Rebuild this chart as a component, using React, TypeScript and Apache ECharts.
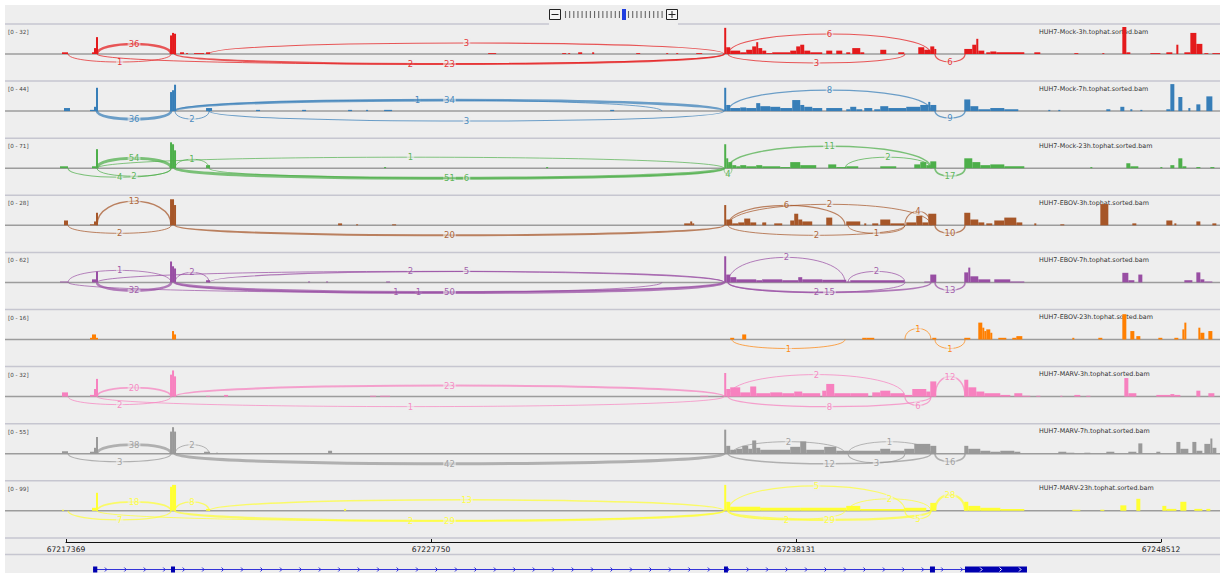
import React, { useEffect, useRef } from "react";
import * as echarts from "echarts";

// ---------- genomic frame ----------
const BASE = 67217369;
const VIEW_START = 67215634;
const VIEW_END = 67250190;
const AXIS_TICKS = [67217369, 67227750, 67238131, 67248512];
const BIN_BP = 56.9; // coverage bin size (bp)

// ---------- tracks ----------
const TRACK_NAMES = [
  "HUH7-Mock-3h.tophat.sorted.bam",
  "HUH7-Mock-7h.tophat.sorted.bam",
  "HUH7-Mock-23h.tophat.sorted.bam",
  "HUH7-EBOV-3h.tophat.sorted.bam",
  "HUH7-EBOV-7h.tophat.sorted.bam",
  "HUH7-EBOV-23h.tophat.sorted.bam",
  "HUH7-MARV-3h.tophat.sorted.bam",
  "HUH7-MARV-7h.tophat.sorted.bam",
  "HUH7-MARV-23h.tophat.sorted.bam",
];
const TRACK_MAX = [32, 44, 71, 28, 62, 16, 32, 55, 99];
const TRACK_COLORS = ["#e41a1c", "#377eb8", "#4daf4a", "#a65628", "#984ea3", "#ff7f00", "#f781bf", "#999999", "#ffff33"];

// ---------- splice sites (bp offset from BASE) ----------
const S68 = 60, S97 = 880, S171 = 2990, S173 = 3040, S175 = 3100, S209 = 4070, S662 = 16950;
const S724 = 18715, S728 = 18830, S732 = 18940, S845 = 22155, S848 = 22240, S905 = 23860;
const S931 = 24600, S935 = 24715, S965 = 25570;

// junctions: [start, end, reads, side(+1 above / -1 below), arc level]
const JUNC_MOCK_3H = [
  [S97, S171, 36, 1, 10], [S68, S171, 1, -1, 8], [S209, S724, 3, 1, 11], [S97, S724, 2, -1, 10],
  [S175, S724, 23, -1, 10], [S728, S931, 6, 1, 20], [S728, S905, 3, -1, 9], [S935, S965, 6, -1, 8],
];
const JUNC_MOCK_7H = [
  [S97, S171, 36, -1, 8], [S175, S209, 2, -1, 8], [S173, S662, 1, 1, 11], [S175, S724, 34, 1, 11],
  [S209, S724, 3, -1, 10], [S728, S931, 8, 1, 21], [S935, S965, 9, -1, 7],
];
const JUNC_MOCK_23H = [
  [S97, S171, 54, 1, 10], [S175, S209, 1, 1, 9], [S97, S724, 1, 1, 11], [S68, S171, 4, -1, 9],
  [S97, S171, 2, -1, 8], [S175, S724, 51, -1, 10], [S209, S724, 6, -1, 10], [S724, S732, 4, -1, 6],
  [S728, S931, 11, 1, 22], [S845, S931, 2, 1, 11], [S935, S965, 17, -1, 8],
];
const JUNC_EBOV_3H = [
  [S97, S171, 13, 1, 24], [S68, S171, 2, -1, 8], [S175, S724, 20, -1, 10], [S728, S845, 6, 1, 20],
  [S728, S931, 2, 1, 21], [S905, S931, 4, 1, 14], [S728, S905, 2, -1, 10], [S848, S905, 1, -1, 8],
  [S935, S965, 10, -1, 8],
];
const JUNC_EBOV_7H = [
  [S68, S171, 1, 1, 12], [S175, S209, 2, 1, 10], [S97, S171, 32, -1, 8], [S68, S724, 1, -1, 10],
  [S175, S662, 1, -1, 10], [S175, S724, 50, -1, 10], [S97, S724, 2, 1, 11], [S209, S724, 5, 1, 11],
  [S728, S845, 2, 1, 25], [S848, S905, 2, 1, 11], [S728, S905, 2, -1, 10], [S728, S931, 15, -1, 10],
  [S935, S965, 13, -1, 8],
];
const JUNC_EBOV_23H = [
  [S732, S845, 1, -1, 9], [S905, S931, 1, 1, 11], [S935, S965, 1, -1, 9],
];
const JUNC_MARV_3H = [
  [S97, S171, 20, 1, 9], [S68, S171, 2, -1, 8], [S175, S724, 23, 1, 11], [S97, S724, 1, -1, 10],
  [S728, S905, 2, 1, 22], [S728, S931, 8, -1, 10], [S905, S931, 6, -1, 9], [S935, S965, 12, 1, 20],
];
const JUNC_MARV_7H = [
  [S97, S171, 38, 1, 9], [S175, S209, 2, 1, 9], [S68, S171, 3, -1, 8], [S175, S724, 42, -1, 10],
  [S732, S845, 2, 1, 12], [S848, S931, 1, 1, 12], [S728, S931, 12, -1, 10], [S848, S905, 3, -1, 9],
  [S935, S965, 16, -1, 8],
];
const JUNC_MARV_23H = [
  [S97, S171, 18, 1, 9], [S175, S209, 8, 1, 9], [S68, S171, 7, -1, 9], [S209, S724, 13, 1, 11],
  [S97, S724, 2, -1, 10], [S175, S724, 29, -1, 10], [S728, S905, 5, 1, 25], [S848, S931, 2, 1, 12],
  [S935, S965, 28, 1, 16], [S728, S845, 2, -1, 9], [S728, S931, 29, -1, 9], [S905, S931, 5, -1, 8],
];
const JUNCTIONS = [JUNC_MOCK_3H, JUNC_MOCK_7H, JUNC_MOCK_23H, JUNC_EBOV_3H, JUNC_EBOV_7H, JUNC_EBOV_23H, JUNC_MARV_3H, JUNC_MARV_7H, JUNC_MARV_23H];

// coverage runs: [firstBin, endBin, depth], bin = BIN_BP from BASE
const COV_MOCK_3H = [
  [-2, 1, 2], [13, 14, 2], [14, 15, 7], [15, 16, 20], [52, 53, 22], [53, 54, 25], [54, 55, 24], [57, 59, 2], [60, 61, 1], [64, 69, 1], [70, 72, 2],
  [211, 215, 1], [248, 250, 1], [251, 252, 1], [256, 258, 2], [263, 264, 2], [285, 287, 1], [300, 301, 1], [305, 306, 1], [315, 318, 1],
  [329, 330, 31], [330, 332, 8], [332, 337, 4], [337, 340, 2], [340, 343, 5], [343, 345, 9], [345, 346, 14], [346, 348, 7], [348, 350, 4], [350, 353, 1],
  [353, 362, 2], [362, 365, 4], [365, 367, 9], [367, 369, 11], [369, 372, 4], [372, 378, 2], [380, 383, 4], [385, 388, 4], [390, 392, 2], [393, 397, 7],
  [397, 399, 2], [407, 410, 5], [416, 419, 2], [426, 429, 8], [429, 432, 5], [432, 434, 9], [434, 435, 6],
  [449, 453, 6], [453, 455, 11], [455, 456, 18], [456, 459, 4], [460, 462, 2], [462, 465, 3], [465, 479, 2], [484, 487, 2], [504, 506, 1], [518, 519, 1],
  [528, 530, 32], [530, 532, 2], [542, 547, 1], [550, 553, 2], [555, 556, 11], [559, 562, 2], [562, 565, 25], [565, 568, 12], [569, 571, 1], [573, 577, 1],
];
const COV_MOCK_7H = [
  [-1, 2, 5], [12, 14, 2], [14, 15, 7], [15, 16, 38], [52, 53, 31], [53, 54, 34], [54, 55, 43], [70, 73, 5],
  [95, 97, 2], [118, 120, 2], [141, 143, 2], [150, 151, 2], [159, 163, 2], [272, 274, 2],
  [329, 330, 38], [330, 332, 10], [332, 337, 5], [337, 340, 6], [340, 345, 5], [345, 347, 13], [347, 352, 8], [352, 357, 7], [357, 363, 5], [363, 367, 18],
  [367, 369, 10], [369, 373, 7], [373, 378, 5], [380, 388, 5], [390, 392, 3], [392, 395, 7], [395, 398, 3], [399, 403, 5], [404, 407, 3], [407, 411, 8],
  [411, 420, 5], [420, 427, 7], [427, 431, 10], [431, 432, 15], [432, 435, 10],
  [449, 452, 19], [452, 456, 8], [456, 462, 3], [462, 469, 5], [469, 476, 3], [491, 492, 2], [496, 497, 2], [520, 522, 3], [527, 529, 7], [532, 533, 3],
  [537, 538, 2], [550, 552, 3], [552, 554, 44], [556, 558, 23], [561, 562, 5], [565, 567, 11], [570, 573, 24],
];
const COV_MOCK_23H = [
  [-3, 1, 5], [13, 15, 5], [15, 16, 50], [52, 53, 68], [53, 54, 63], [54, 55, 47], [70, 72, 8], [159, 160, 3], [240, 241, 3],
  [329, 330, 63], [330, 331, 26], [331, 333, 16], [333, 335, 8], [335, 337, 5], [337, 340, 8], [340, 345, 5], [345, 348, 8], [348, 357, 5], [357, 362, 3],
  [362, 367, 16], [367, 375, 8], [381, 385, 10], [385, 390, 3], [390, 396, 5], [407, 415, 5], [424, 427, 10], [427, 430, 16], [430, 432, 8], [432, 435, 18],
  [449, 453, 26], [453, 457, 16], [457, 462, 8], [462, 469, 10], [469, 479, 5], [512, 513, 3], [530, 532, 13], [532, 536, 5], [547, 548, 3], [552, 554, 8],
  [556, 558, 26], [558, 560, 5], [565, 567, 3], [572, 574, 3],
];
const COV_EBOV_3H = [
  [-1, 1, 5], [12, 14, 1], [14, 15, 4], [15, 16, 13], [52, 54, 27], [54, 55, 21], [136, 138, 2], [145, 146, 1], [163, 165, 1], [309, 312, 2], [312, 313, 4], [313, 314, 2],
  [329, 330, 21], [330, 333, 6], [333, 336, 2], [336, 339, 3], [339, 342, 7], [342, 345, 3], [348, 350, 3], [354, 358, 2], [362, 364, 5], [364, 366, 12],
  [366, 368, 6], [368, 373, 4], [380, 383, 8], [390, 397, 4], [399, 400, 2], [403, 406, 2], [407, 412, 6], [412, 419, 2], [420, 425, 3], [425, 428, 10],
  [428, 431, 3], [431, 435, 12],
  [449, 452, 13], [452, 456, 6], [456, 459, 3], [460, 463, 2], [464, 469, 5], [469, 475, 8], [475, 478, 3], [484, 485, 2], [497, 499, 1], [517, 521, 22],
  [533, 535, 2], [550, 553, 5], [554, 555, 2], [565, 567, 4], [573, 575, 2],
];
const COV_EBOV_7H = [
  [-3, 1, 2], [13, 15, 7], [15, 16, 25], [52, 53, 48], [53, 54, 37], [54, 55, 32], [70, 72, 5], [121, 122, 2], [130, 131, 2], [160, 162, 2],
  [329, 330, 60], [330, 332, 18], [332, 335, 12], [335, 345, 7], [345, 348, 5], [348, 358, 7], [358, 366, 5], [366, 368, 12], [368, 378, 7], [378, 390, 6],
  [390, 392, 2], [392, 419, 5], [429, 432, 2], [432, 435, 18],
  [449, 451, 23], [451, 452, 34], [452, 456, 14], [456, 462, 7], [464, 472, 7], [472, 479, 2], [528, 531, 22], [531, 534, 5], [536, 538, 18], [559, 563, 5],
  [565, 567, 23], [567, 569, 7], [569, 573, 2],
];
const COV_EBOV_23H = [
  [12, 13, 1], [13, 15, 3], [15, 16, 1], [53, 54, 5], [54, 55, 3],
  [332, 334, 1], [338, 340, 3], [398, 400, 1], [400, 404, 1], [433, 435, 1],
  [449, 452, 1], [456, 458, 10], [458, 459, 7], [459, 460, 5], [460, 462, 6], [462, 463, 4], [466, 470, 1], [473, 475, 1], [475, 478, 2], [503, 504, 1],
  [516, 518, 1], [528, 530, 15], [532, 534, 5], [535, 537, 2], [546, 548, 1], [554, 556, 1], [558, 559, 6], [559, 560, 10], [566, 567, 7], [567, 569, 4], [571, 573, 5],
];
const COV_MARV_3H = [
  [-2, 1, 5], [12, 14, 2], [14, 15, 9], [15, 16, 21], [52, 53, 26], [53, 54, 31], [54, 55, 24], [70, 72, 1], [79, 81, 2], [152, 155, 1], [157, 162, 1], [317, 321, 1],
  [329, 330, 28], [330, 332, 9], [332, 337, 11], [337, 342, 5], [342, 345, 12], [345, 352, 4], [352, 358, 5], [358, 364, 4], [364, 368, 6], [368, 377, 4],
  [378, 380, 7], [380, 384, 15], [384, 392, 4], [392, 401, 4], [403, 407, 5], [407, 412, 7], [412, 419, 4], [419, 423, 2], [423, 430, 9], [430, 432, 6], [432, 435, 18],
  [449, 451, 20], [451, 455, 11], [455, 459, 6], [459, 467, 4], [467, 472, 2], [474, 478, 4], [478, 482, 1], [485, 487, 1], [497, 498, 1], [504, 507, 2],
  [510, 512, 1], [529, 531, 22], [531, 535, 4], [545, 552, 2], [552, 554, 3], [554, 557, 2], [565, 567, 7], [571, 574, 4],
];
const COV_MARV_7H = [
  [-2, 1, 5], [12, 14, 4], [14, 15, 12], [15, 16, 34], [52, 53, 45], [53, 54, 54], [54, 55, 45], [69, 72, 4], [75, 76, 2], [131, 133, 6],
  [329, 330, 49], [330, 332, 16], [332, 335, 8], [335, 338, 10], [338, 341, 16], [341, 343, 10], [343, 345, 27], [345, 347, 12], [347, 362, 8], [362, 367, 14],
  [367, 370, 25], [370, 379, 8], [379, 385, 14], [385, 391, 6], [391, 407, 6], [407, 412, 10], [412, 419, 6], [419, 424, 10], [424, 432, 20], [432, 435, 16],
  [449, 451, 16], [451, 457, 10], [457, 462, 6], [462, 467, 4], [467, 474, 6], [474, 477, 4], [496, 500, 4], [500, 504, 2], [509, 512, 2], [520, 524, 4],
  [531, 535, 4], [536, 538, 21], [545, 547, 4], [555, 557, 24], [557, 561, 10], [563, 565, 24], [565, 568, 6], [569, 572, 20], [572, 573, 31], [573, 575, 12],
];
const COV_MARV_23H = [
  [-2, -1, 4], [13, 15, 11], [15, 16, 66], [52, 53, 88], [53, 55, 95], [70, 72, 7], [139, 140, 7],
  [329, 330, 95], [330, 332, 33], [332, 347, 15], [347, 367, 11], [367, 390, 11], [390, 397, 18], [397, 419, 7], [419, 430, 11], [432, 435, 29],
  [449, 451, 33], [451, 457, 18], [457, 467, 11], [467, 479, 7], [503, 507, 4], [517, 519, 4], [527, 530, 20], [535, 537, 44], [548, 550, 18], [550, 555, 7],
  [557, 560, 33], [564, 568, 7], [570, 572, 7],
];
const COVERAGE = [COV_MOCK_3H, COV_MOCK_7H, COV_MOCK_23H, COV_EBOV_3H, COV_EBOV_7H, COV_EBOV_23H, COV_MARV_3H, COV_MARV_7H, COV_MARV_23H];

// gene model exons (bp offset from BASE)
const GENE_EXONS = [[770, 890], [2986, 3100], [18714, 18828], [24572, 24714], [25568, 27331]];

// ---------- layout ----------
const TRACK_Y0 = 27;
const TRACK_STEP = 57.1;
const TRACK_H = 27;
const BG = "#eeeeee";
const FONT = "DejaVu Sans";

function hexA(hex: string, a: number) {
  const n = parseInt(hex.slice(1), 16);
  return `rgba(${(n >> 16) & 255},${(n >> 8) & 255},${n & 255},${a})`;
}

function buildOption() {
  const grid: any[] = [];
  const xAxis: any[] = [];
  const yAxis: any[] = [];
  const series: any[] = [];

  for (let i = 0; i < TRACK_NAMES.length; i++) {
    const color = TRACK_COLORS[i];
    grid.push({ left: 5, right: 0, top: TRACK_Y0 + TRACK_STEP * i, height: TRACK_H });
    xAxis.push({ type: "value", gridIndex: i, min: VIEW_START, max: VIEW_END, show: false });
    yAxis.push({ type: "value", gridIndex: i, min: 0, max: TRACK_MAX[i], show: false });
    series.push({
      type: "custom",
      xAxisIndex: i,
      yAxisIndex: i,
      silent: true,
      encode: { x: [0, 1], y: 2 },
      data: COVERAGE[i].map(([b0, b1, v]) => [BASE + b0 * BIN_BP, BASE + b1 * BIN_BP, v]),
      renderItem: (_p: any, api: any) => {
        const s = api.coord([api.value(0), api.value(2)]);
        const e = api.coord([api.value(1), 0]);
        return {
          type: "rect",
          shape: { x: s[0], y: s[1], width: Math.max(e[0] - s[0], 0.8), height: e[1] - s[1] },
          style: { fill: color },
        };
      },
    });
    series.push({
      type: "custom",
      xAxisIndex: i,
      yAxisIndex: i,
      silent: true,
      z: 3,
      encode: { x: [0, 1] },
      data: JUNCTIONS[i].map(([s, e, c, side, lvl]) => [BASE + s, BASE + e, c, side, lvl]),
      renderItem: (_p: any, api: any) => {
        const p0 = api.coord([api.value(0), 0]);
        const p1 = api.coord([api.value(1), 0]);
        const c = api.value(2);
        const side = api.value(3);
        const lvl = api.value(4);
        const H = lvl / 0.75;
        const y0 = p0[1];
        const lw = Math.min(3, 0.9 + c / 20);
        return {
          type: "group",
          children: [
            {
              type: "bezierCurve",
              shape: { x1: p0[0], y1: y0, cpx1: p0[0], cpy1: y0 - side * H, cpx2: p1[0], cpy2: y0 - side * H, x2: p1[0], y2: y0 },
              style: { stroke: hexA(color, 0.72), lineWidth: lw, fill: "none" },
            },
            {
              type: "text",
              x: (p0[0] + p1[0]) / 2,
              y: y0 - side * lvl,
              style: {
                text: String(c),
                fill: hexA(color, 0.9),
                font: `8.5px ${FONT}`,
                align: "center",
                verticalAlign: "middle",
                textAlign: "center",
                textVerticalAlign: "middle",
                backgroundColor: "rgba(238,238,238,0.55)",
                padding: [0, 1],
              },
            },
          ],
        };
      },
    });
  }

  // genomic axis
  const ai = TRACK_NAMES.length;
  grid.push({ left: 66, right: 1220 - 1161, top: 541, height: 1 });
  xAxis.push({
    type: "value",
    gridIndex: ai,
    min: AXIS_TICKS[0],
    max: AXIS_TICKS[AXIS_TICKS.length - 1],
    position: "bottom",
    axisLine: { show: true, lineStyle: { color: "#111", width: 1 } },
    axisTick: { show: true, inside: true, length: 3, customValues: AXIS_TICKS, lineStyle: { color: "#111" } },
    axisLabel: {
      show: true,
      customValues: AXIS_TICKS,
      formatter: (v: number) => String(v),
      fontSize: 7.6,
      fontFamily: FONT,
      color: "#222",
      margin: 3,
    },
    splitLine: { show: false },
  });
  yAxis.push({ type: "value", gridIndex: ai, min: 0, max: 1, show: false });

  // gene model
  const gi = ai + 1;
  grid.push({ left: 5, right: 0, top: 566, height: 10 });
  xAxis.push({ type: "value", gridIndex: gi, min: VIEW_START, max: VIEW_END, show: false });
  yAxis.push({ type: "value", gridIndex: gi, min: 0, max: 1, show: false });
  const exonData = GENE_EXONS.map(([s, e]) => [BASE + s, BASE + e]);
  series.push({
    type: "custom",
    xAxisIndex: gi,
    yAxisIndex: gi,
    silent: true,
    encode: { x: [0, 1] },
    data: [[exonData[0][0], exonData[exonData.length - 1][1]]],
    renderItem: (_p: any, api: any) => {
      const a = api.coord([api.value(0), 0.5]);
      const b = api.coord([api.value(1), 0.5]);
      return {
        type: "line",
        shape: { x1: a[0], y1: a[1], x2: b[0], y2: b[1] },
        style: { stroke: "#3535d8", lineWidth: 1 },
      };
    },
  });
  series.push({
    type: "custom",
    xAxisIndex: gi,
    yAxisIndex: gi,
    silent: true,
    z: 3,
    encode: { x: [0, 1] },
    data: exonData,
    renderItem: (_p: any, api: any) => {
      const a = api.coord([api.value(0), 0.5]);
      const b = api.coord([api.value(1), 0.5]);
      return {
        type: "rect",
        shape: { x: a[0], y: a[1] - 3, width: Math.max(b[0] - a[0], 3), height: 6 },
        style: { fill: "#0000b0" },
      };
    },
  });
  // strand chevrons along the gene body
  series.push({
    type: "custom",
    xAxisIndex: gi,
    yAxisIndex: gi,
    silent: true,
    z: 4,
    encode: { x: [0, 1] },
    data: [[exonData[0][0], exonData[exonData.length - 1][1]]],
    renderItem: (_p: any, api: any) => {
      const a = api.coord([api.value(0), 0.5]);
      const b = api.coord([api.value(1), 0.5]);
      const wide = exonData.filter(([s, e]) => e - s > 1000).map(([s, e]) => [api.coord([s, 0.5])[0], api.coord([e, 0.5])[0]]);
      const kids: any[] = [];
      for (let x = a[0] + 13; x < b[0] - 3; x += 19.45) {
        const inWide = wide.some(([l, r]) => x > l && x < r);
        kids.push({
          type: "polyline",
          shape: { points: [[x - 1.2, a[1] - 2], [x + 0.8, a[1]], [x - 1.2, a[1] + 2]] },
          style: { stroke: inWide ? "#ffffff" : "#2a2ae0", lineWidth: 1, fill: "none" },
        });
      }
      return { type: "group", children: kids };
    },
  });

  // ---------- decorations ----------
  const g: any[] = [];
  g.push({ type: "rect", z: -10, shape: { x: 5, y: 5, width: 1215, height: 568 }, style: { fill: BG } });
  const sepColor = "#c6c6d0";
  for (let i = 0; i <= TRACK_NAMES.length; i++) {
    const y = 24 + TRACK_STEP * i;
    if (i === 0) {
      g.push({ type: "line", shape: { x1: 5, y1: y, x2: 549, y2: y }, style: { stroke: sepColor, lineWidth: 1.5 } });
      g.push({ type: "line", shape: { x1: 678, y1: y, x2: 1220, y2: y }, style: { stroke: sepColor, lineWidth: 1.5 } });
    } else {
      g.push({ type: "line", shape: { x1: 5, y1: y, x2: 1220, y2: y }, style: { stroke: sepColor, lineWidth: 1.5 } });
    }
  }
  g.push({ type: "line", shape: { x1: 5, y1: 554.5, x2: 1220, y2: 554.5 }, style: { stroke: sepColor, lineWidth: 1.5 } });
  for (let i = 0; i < TRACK_NAMES.length; i++) {
    const yb = TRACK_Y0 + TRACK_H + TRACK_STEP * i;
    g.push({ type: "line", shape: { x1: 5, y1: yb, x2: 1220, y2: yb }, style: { stroke: "#9c9c9c", lineWidth: 1.5 } });
    g.push({
      type: "text",
      x: 8,
      y: 32 + TRACK_STEP * i,
      style: { text: `[0 - ${TRACK_MAX[i]}]`, fill: "#444", font: `5.6px ${FONT}`, textVerticalAlign: "middle", verticalAlign: "middle" },
    });
    g.push({
      type: "text",
      x: 1039,
      y: 31.5 + TRACK_STEP * i,
      style: { text: TRACK_NAMES[i], fill: "#333", font: `6.4px ${FONT}`, textVerticalAlign: "middle", verticalAlign: "middle" },
    });
  }
  // zoom widget
  g.push({ type: "rect", shape: { x: 549.5, y: 9.5, width: 11, height: 10 }, style: { fill: "#f6f6f6", stroke: "#222", lineWidth: 1 } });
  g.push({ type: "line", shape: { x1: 551.5, y1: 14.5, x2: 558.5, y2: 14.5 }, style: { stroke: "#222", lineWidth: 1 } });
  g.push({ type: "rect", shape: { x: 666.5, y: 9.5, width: 11, height: 10 }, style: { fill: "#f6f6f6", stroke: "#222", lineWidth: 1 } });
  g.push({ type: "line", shape: { x1: 668.5, y1: 14.5, x2: 675.5, y2: 14.5 }, style: { stroke: "#222", lineWidth: 1 } });
  g.push({ type: "line", shape: { x1: 672, y1: 11, x2: 672, y2: 18 }, style: { stroke: "#222", lineWidth: 1 } });
  for (let k = 0; k < 14; k++) {
    const x = 565.5 + k * 4.15;
    g.push({ type: "line", shape: { x1: x, y1: 11, x2: x, y2: 18 }, style: { stroke: "#666", lineWidth: 1.1 } });
  }
  for (let k = 0; k < 9; k++) {
    const x = 628.5 + k * 4.2;
    g.push({ type: "line", shape: { x1: x, y1: 11, x2: x, y2: 18 }, style: { stroke: "#666", lineWidth: 1.1 } });
  }
  g.push({ type: "rect", shape: { x: 622, y: 9, width: 4, height: 11 }, style: { fill: "#1f3ee0" } });

  return {
    animation: false,
    backgroundColor: "#ffffff",
    textStyle: { fontFamily: FONT },
    grid,
    xAxis,
    yAxis,
    series,
    graphic: { elements: g },
  };
}

export default function App() {
  const ref = useRef<HTMLDivElement>(null);
  useEffect(() => {
    if (!ref.current) return;
    const chart = echarts.init(ref.current, undefined, { renderer: "svg" });
    chart.setOption(buildOption());
    return () => chart.dispose();
  }, []);
  return <div ref={ref} style={{ position: "absolute", left: 0, top: 0, width: 1220, height: 573 }} />;
}
